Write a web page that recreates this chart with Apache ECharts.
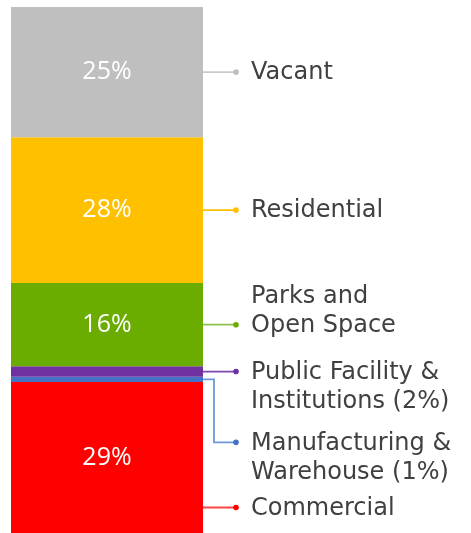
<!DOCTYPE html>
<html>
<head>
<meta charset="utf-8">
<script src="https://cdn.jsdelivr.net/npm/echarts@6/dist/echarts.min.js"></script>
<style>
  html, body { margin: 0; padding: 0; background: #fff; }
  #chart { width: 471px; height: 533px; }
</style>
</head>
<body>
<div id="chart"></div>
<script>
  /* data, bottom of the bar first */
  const categories = ['Land Use'];
  const segmentNames = ['Commercial', 'Manufacturing & Warehouse', 'Public Facility & Institutions', 'Parks and Open Space', 'Residential', 'Vacant'];
  const segmentValues = [29, 1, 2, 16, 28, 25];
  const legendTexts = ['Commercial', 'Manufacturing &\nWarehouse (1%)', 'Public Facility &\nInstitutions (2%)', 'Parks and\nOpen Space', 'Residential', 'Vacant'];

  /* styling */
  const barColors = ['#ff0000', '#4472c4', '#7030a0', '#6aac00', '#ffc000', '#bfbfbf'];
  const leaderColors = ['#ff4545', '#6d96dc', '#8046b0', '#8cc24a', '#ffc000', '#cbcbcb'];
  // pixel shift of a leader's end from the segment middle, and which text line the dot points at
  const labelShift = [50, 63, 0, 0, 0, 0];
  const dotLine = [0, 0, 0, 1, 0, 0];

  const gridLeft = 11, gridWidth = 192, gridTop = 7;
  const elbowX = 214, dotX = 236, textX = 251, lineH = 29;

  const chart = echarts.init(document.getElementById('chart'));

  const option = {
    animation: false,
    grid: { left: gridLeft, width: gridWidth, top: gridTop, bottom: 0 },
    xAxis: { type: 'category', data: categories, show: false },
    yAxis: { type: 'value', min: 0, max: 101, show: false },
    series: segmentNames.map((name, i) => ({
      type: 'bar',
      name,
      stack: 'total',
      barWidth: '100%',
      data: [segmentValues[i]],
      itemStyle: { color: barColors[i] },
      label: {
        show: segmentValues[i] >= 5,
        position: 'inside',
        formatter: '{c}%',
        color: '#fff',
        fontFamily: 'Open Sans',
        fontSize: 25
      }
    }))
  };
  chart.setOption(option);

  /* leader lines and labels, placed from the value axis */
  const barRight = gridLeft + gridWidth;
  const graphics = [];
  let acc = 0;
  segmentValues.forEach((v, i) => {
    const yBot = chart.convertToPixel({ gridIndex: 0 }, [0, acc])[1];
    const yTop = chart.convertToPixel({ gridIndex: 0 }, [0, acc + v])[1];
    acc += v;
    const mid = (yBot + yTop) / 2;
    const endY = mid + labelShift[i];
    let pts;
    if (endY <= yBot && endY >= yTop) {
      pts = [[barRight, endY], [dotX, endY]];
    } else {
      pts = [[barRight, mid], [elbowX, mid], [elbowX, endY], [dotX, endY]];
    }
    graphics.push({
      type: 'polyline',
      shape: { points: pts },
      style: { stroke: leaderColors[i], lineWidth: 1.8, fill: null },
      z: 10
    });
    graphics.push({
      type: 'circle',
      shape: { cx: dotX, cy: endY, r: 2.8 },
      style: { fill: barColors[i] },
      z: 10
    });
    graphics.push({
      type: 'text',
      x: textX,
      y: endY - lineH / 2 - dotLine[i] * lineH + 1,
      style: {
        text: legendTexts[i],
        font: '24px "DejaVu Sans"',
        fill: '#404040',
        lineHeight: lineH,
        verticalAlign: 'top'
      },
      z: 10
    });
  });
  chart.setOption({ graphic: graphics });
</script>
</body>
</html>
